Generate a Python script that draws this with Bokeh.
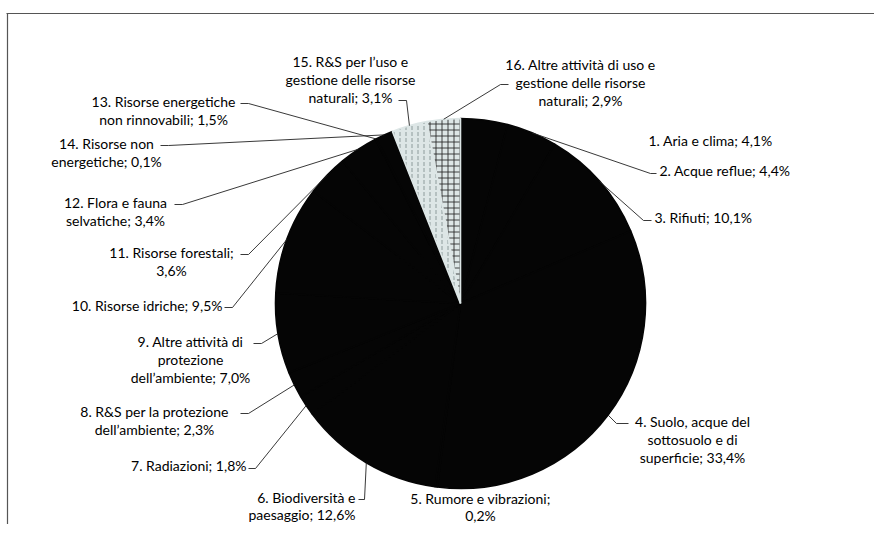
import numpy as np
from bokeh.plotting import figure
from bokeh.models import Range1d, ColumnDataSource
from bokeh.core.properties import value
from bokeh.embed import file_html
from bokeh.resources import INLINE

# ---- data ----
categories = [
    "1. Aria e clima", "2. Acque reflue", "3. Rifiuti",
    "4. Suolo, acque del sottosuolo e di superficie",
    "5. Rumore e vibrazioni", "6. Biodiversità e paesaggio",
    "7. Radiazioni", "8. R&S per la protezione dell'ambiente",
    "9. Altre attività di protezione dell'ambiente",
    "10. Risorse idriche", "11. Risorse forestali",
    "12. Flora e fauna selvatiche",
    "13. Risorse energetiche non rinnovabili",
    "14. Risorse non energetiche",
    "15. R&S per l'uso e gestione delle risorse naturali",
    "16. Altre attività di uso e gestione delle risorse naturali",
]
shares = [4.1, 4.4, 10.1, 33.4, 0.2, 12.6, 1.8, 2.3, 7.0, 9.5, 3.6, 3.4, 0.1, 1.5, 3.1, 2.9]
label_lines = [
    ["1. Aria e clima; 4,1%"],
    ["2. Acque reflue; 4,4%"],
    ["3. Rifiuti; 10,1%"],
    ["4. Suolo, acque del", "sottosuolo e di", "superficie; 33,4%"],
    ["5. Rumore e vibrazioni;", "0,2%"],
    ["6. Biodiversità e", "paesaggio; 12,6%"],
    ["7. Radiazioni; 1,8%"],
    ["8. R&S per la protezione", "dell\u2019ambiente; 2,3%"],
    ["9. Altre attività di", "protezione", "dell\u2019ambiente; 7,0%"],
    ["10. Risorse idriche; 9,5%"],
    ["11. Risorse forestali;", "3,6%"],
    ["12. Flora e fauna", "selvatiche; 3,4%"],
    ["13. Risorse energetiche", "non rinnovabili; 1,5%"],
    ["14. Risorse non", "energetiche; 0,1%"],
    ["15. R&S per l\u2019uso e", "gestione delle risorse", "naturali; 3,1%"],
    ["16. Altre attività di uso e", "gestione delle risorse", "naturali; 2,9%"],
]

# ---- layout (picture pixels) ----
W, H = 874, 524
def sy(Y):
    return 540 - Y

CX, CY, R = 460, sy(303), 185
dark = "#050505"
light = "#dde6e6"
slice_fill = [dark] * 14 + [light, light]
hatch = [" "] * 14 + ["vertical_dash", "cross"]
hatch_col = ["#000000"] * 14 + ["#7f8c8c", "#222222"]

# label anchor: (x, y of first line, align)
label_pos = [
    (648, 140, "left"), (659, 170, "left"), (654, 217, "left"),
    (692, 421, "center"), (480, 498, "center"), (355, 497, "right"),
    (246, 465, "right"), (154, 411, "center"), (190, 341, "center"),
    (222, 305, "right"), (171, 252, "center"), (115, 202, "center"),
    (163, 101, "center"), (106, 143, "center"), (350, 61, "center"),
    (580, 64, "center"),
]
# leader: start point near text and knee, None = no leader
leader_ab = [
    None, ((656, 173), (650, 173)), ((651, 220), (643, 220)),
    ((628, 423), (616, 423)), None, ((358, 499), (364, 499)),
    ((248, 468), (255, 468)), ((240, 413), (248, 413)),
    ((253, 343), (261, 343)), ((224, 307), (232, 307)),
    ((240, 254), (248, 254)), ((174, 204), (182, 204)),
    ((240, 103), (248, 103)), ((160, 145), (168, 145)),
    ((398, 100), (406, 100)), ((508, 84), (500, 84)),
]
LH = 18.0
LH_BOTTOM = 17.0

p = figure(width=W, height=H, x_range=Range1d(0, W), y_range=Range1d(540 - H, 540),
           output_backend="svg", toolbar_location=None, min_border=0)
p.axis.visible = False
p.grid.visible = False
p.outline_line_color = None
p.background_fill_color = "white"
p.border_fill_color = "white"

vals = np.array(shares, dtype=float)
frac = vals / vals.sum()
cum_end = np.cumsum(frac)
cum_start = cum_end - frac
start_angle = np.pi / 2 - 2 * np.pi * cum_start
end_angle = np.pi / 2 - 2 * np.pi * cum_end

src = ColumnDataSource(dict(start=start_angle, end=end_angle, fill=slice_fill,
                            hatch=hatch, hcol=hatch_col, name=categories))
p.wedge(x=CX, y=CY, radius=R, start_angle="start", end_angle="end", direction="clock",
        fill_color="fill", line_color="fill", line_width=1.6,
        hatch_pattern="hatch", hatch_color="hcol", hatch_scale=6, hatch_weight=1,
        hatch_alpha=0.85, source=src)

# leader lines
mid = 2 * np.pi * (cum_start + frac / 2)
xs, ys = [], []
for i, ab in enumerate(leader_ab):
    if ab is None:
        continue
    (ax, ay), (bx, by) = ab
    cx = CX + R * np.sin(mid[i])
    cy = CY + R * np.cos(mid[i])
    xs.append([ax, bx, cx])
    ys.append([sy(ay), sy(by), cy])
p.multi_line(xs=xs, ys=ys, line_color="#222222", line_width=0.9)

# labels
tx, ty, tt, ta = [], [], [], []
for i, (lines, (x, y, al)) in enumerate(zip(label_lines, label_pos)):
    lh = LH_BOTTOM if i in (4, 5) else LH
    for k, line in enumerate(lines):
        tx.append(x)
        ty.append(sy(y + k * lh))
        tt.append(line)
        ta.append(al)
tsrc = ColumnDataSource(dict(x=tx, y=ty, t=tt, a=ta))
p.text(x="x", y="y", text="t", text_align="a", text_baseline="middle",
       text_font=value("Lato"), text_font_size="14px", text_color="#000000", source=tsrc)

# frame of the original chart area
p.segment(x0=[6, 7], y0=[sy(13), sy(13)], x1=[874, 7], y1=[sy(13), 540 - H],
          line_color="#555555", line_width=1.2)

open("out.html", "w").write(file_html(p, INLINE))
